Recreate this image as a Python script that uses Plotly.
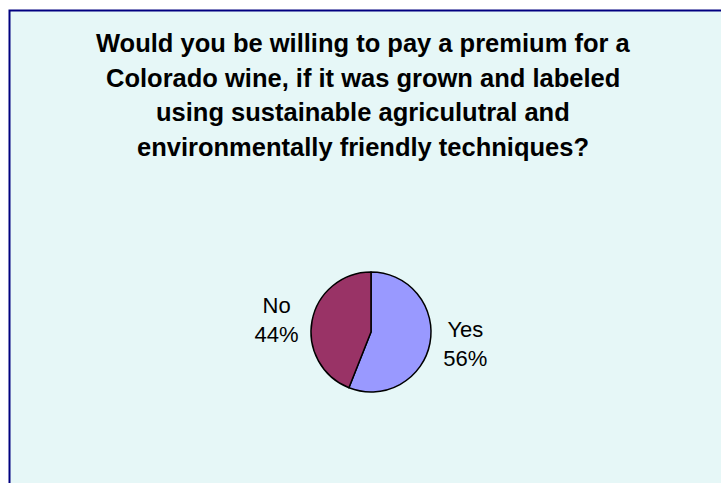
import plotly.graph_objects as go

labels = ["Yes", "No"]
values = [56, 44]
colors = ["#9999FF", "#993366"]
title_lines = [
    "Would you be willing to pay a premium for a",
    "Colorado wine, if it was grown and labeled",
    "using sustainable agriculutral and",
    "environmentally friendly techniques?",
]

W, H = 721, 483
cx, cy, half = 371, 332, 60

fig = go.Figure(go.Pie(
    labels=labels, values=values, sort=False, direction="clockwise", rotation=0,
    marker=dict(colors=colors, line=dict(color="black", width=1.5)),
    texttemplate="%{label}<br>%{percent}", textposition="outside",
    textfont=dict(family="Liberation Sans, Arial", size=22, color="black"),
    showlegend=False, hoverinfo="skip",
    domain=dict(x=[(cx - half) / W, (cx + half) / W],
                y=[(H - cy - half) / H, (H - cy + half) / H]),
))

shapes = [dict(type="rect", xref="paper", yref="paper",
               x0=9.5 / W, x1=1.01, y0=-0.01, y1=(H - 10.5) / H,
               fillcolor="#E6F7F7", line=dict(color="#000080", width=2), layer="below")]

annotations = []
for i, t in enumerate(title_lines):
    annotations.append(dict(text="<b>" + t + "</b>", xref="paper", yref="paper",
                            x=363 / W, y=(H - (43 + 34.7 * i)) / H, showarrow=False,
                            xanchor="center", yanchor="middle",
                            font=dict(family="Liberation Sans, Arial", size=25.5, color="black")))

fig.update_layout(width=W, height=H, margin=dict(l=0, r=0, t=0, b=0),
                  paper_bgcolor="white", plot_bgcolor="white",
                  shapes=shapes, annotations=annotations)
fig.write_html("out.html")
